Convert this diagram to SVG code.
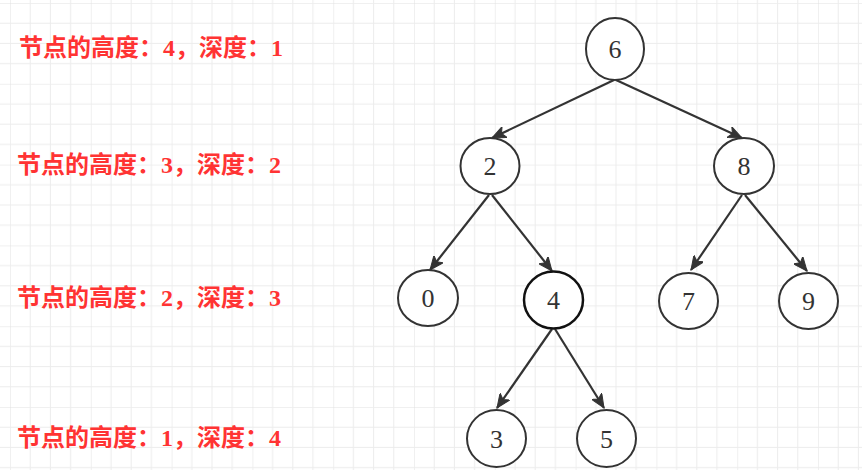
<svg xmlns="http://www.w3.org/2000/svg" width="862" height="470" viewBox="0 0 862 470">
<style>
.node ellipse{fill:#fff;stroke:#333;stroke-width:2}
.node text{font-family:"Liberation Serif","Times New Roman",serif;font-size:26px;fill:#333;text-anchor:middle}
.lbl{font-family:"Liberation Serif","Noto Sans CJK SC",serif;font-size:24px;font-weight:bold;fill:#ff3333}
.edge{stroke:#333;stroke-width:2.2;fill:none;marker-end:url(#arr)}
</style>
<defs>
<pattern id="grid" patternUnits="userSpaceOnUse" x="10" y="3" width="80.8" height="80.8">
<path d="M0,0H80.8M0,0V80.8" stroke="#e1e1e1" stroke-width="1" fill="none"/>
<path d="M0,20.2H80.8M0,40.4H80.8M0,60.6H80.8M20.2,0V80.8M40.4,0V80.8M60.6,0V80.8" stroke="#ececec" stroke-width="1" fill="none"/>
</pattern>
<marker id="arr" markerUnits="userSpaceOnUse" markerWidth="15" markerHeight="12" refX="14" refY="6" orient="auto" viewBox="0 0 15 12">
<path d="M0,0L14,6L0,12L3.5,6Z" fill="#333" stroke="#333" stroke-width="1"/>
</marker>
</defs>
<rect width="862" height="470" fill="#fff"/>
<rect width="862" height="470" fill="url(#grid)"/>
<g id="labels">
<text class="lbl" x="19" y="56">节点的高度：4，深度：1</text>
<text class="lbl" x="17" y="173">节点的高度：3，深度：2</text>
<text class="lbl" x="17" y="306">节点的高度：2，深度：3</text>
<text class="lbl" x="17" y="446">节点的高度：1，深度：4</text>
</g>
<g id="connectors">
<path class="edge" d="M614,80L492,138"/>
<path class="edge" d="M616,80L742,138"/>
<path class="edge" d="M489,195L430,270"/>
<path class="edge" d="M492,195L552,271"/>
<path class="edge" d="M742,195L691,270"/>
<path class="edge" d="M745,195L807,271"/>
<path class="edge" d="M552,329L497,408"/>
<path class="edge" d="M555,329L604,408"/>
</g>
<g id="n6" class="node"><ellipse cx="615" cy="49" rx="29" ry="31"/><text x="615" y="58">6</text></g>
<g id="n2" class="node"><ellipse cx="490" cy="166" rx="29.5" ry="28"/><text x="490" y="175">2</text></g>
<g id="n8" class="node"><ellipse cx="744" cy="166" rx="30" ry="28"/><text x="744" y="175">8</text></g>
<g id="n0" class="node"><ellipse cx="428" cy="298" rx="30" ry="28"/><text x="428" y="307">0</text></g>
<g id="n4" class="node"><ellipse cx="553.5" cy="300" rx="29.5" ry="28.5" style="stroke:#111;stroke-width:2.5"/><text x="553.5" y="309">4</text></g>
<g id="n7" class="node"><ellipse cx="688.5" cy="301" rx="29.5" ry="28"/><text x="688.5" y="310">7</text></g>
<g id="n9" class="node"><ellipse cx="808.5" cy="301" rx="29.5" ry="28"/><text x="808.5" y="310">9</text></g>
<g id="n3" class="node"><ellipse cx="496.5" cy="438.5" rx="29.5" ry="28.5"/><text x="496.5" y="447.5">3</text></g>
<g id="n5" class="node"><ellipse cx="606.5" cy="438.5" rx="29.5" ry="28.5"/><text x="606.5" y="447.5">5</text></g>
</svg>
